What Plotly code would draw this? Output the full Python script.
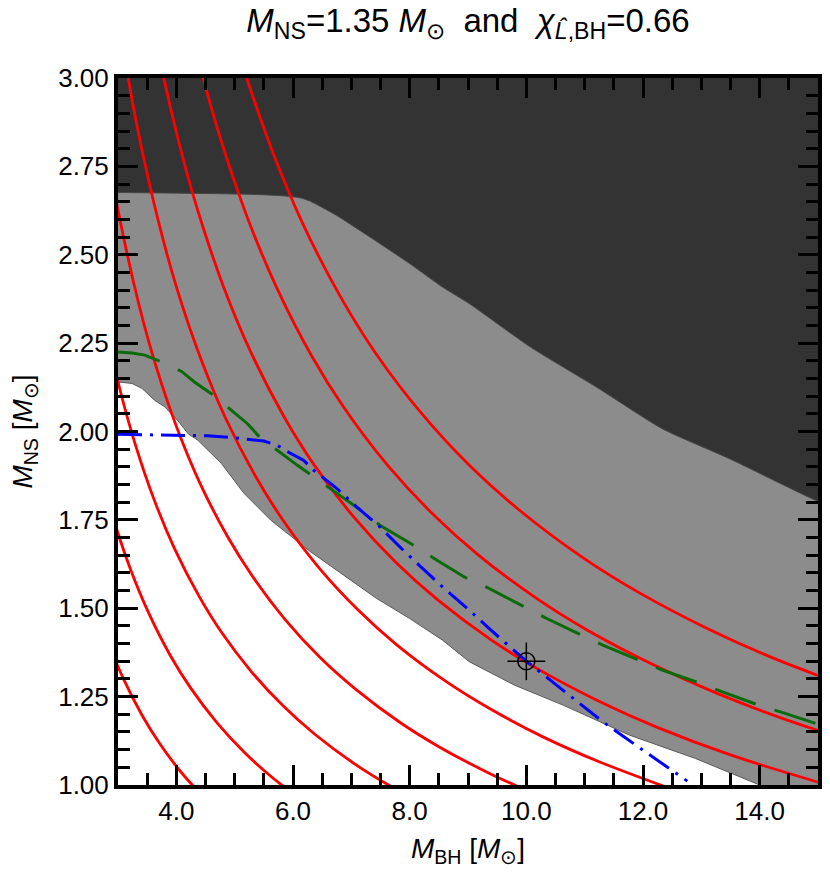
import plotly.graph_objects as go

# Red contour curves (M_BH, M_NS)
red1_x = [2.818, 3.094, 3.417, 3.720, 4.118, 4.542]
red1_y = [1.409, 1.300, 1.196, 1.116, 1.029, 0.954]
red2_x = [2.695, 2.921, 3.217, 3.533, 3.901, 4.247, 4.702, 5.186, 5.660, 6.282]
red2_y = [1.887, 1.753, 1.609, 1.484, 1.365, 1.274, 1.175, 1.089, 1.019, 0.942]
red3_x = [2.743, 3.030, 3.284, 3.617, 3.971, 4.386, 4.774, 5.285, 5.830, 6.363, 7.062, 7.668, 8.446]
red3_y = [2.331, 2.121, 1.970, 1.808, 1.668, 1.535, 1.432, 1.321, 1.224, 1.145, 1.059, 0.997, 0.929]
red4_x = [2.806, 3.046, 3.365, 3.646, 4.016, 4.410, 4.870, 5.302, 5.869, 6.473, 7.066, 7.842, 8.515, 9.379, 10.213]
red4_y = [2.806, 2.589, 2.355, 2.188, 2.008, 1.852, 1.705, 1.591, 1.467, 1.359, 1.272, 1.176, 1.107, 1.032, 0.970]
red5_x = [3.085, 3.349, 3.700, 4.009, 4.415, 4.849, 5.355, 5.829, 6.453, 7.117, 7.768, 8.622, 9.362, 10.312, 11.229, 12.415]
red5_y = [3.085, 2.846, 2.590, 2.405, 2.208, 2.036, 1.874, 1.749, 1.613, 1.495, 1.398, 1.293, 1.217, 1.134, 1.067, 0.993]
red6_x = [3.365, 3.652, 4.034, 4.372, 4.815, 5.287, 5.839, 6.356, 7.037, 7.761, 8.471, 9.402, 10.209, 11.245,
          12.245, 13.538, 15.292]
red6_y = [3.365, 3.104, 2.824, 2.623, 2.407, 2.221, 2.044, 1.907, 1.759, 1.630, 1.525, 1.410, 1.327, 1.237,
          1.163, 1.083, 0.994]
red7_x = [3.955, 4.369, 4.734, 5.214, 5.726, 6.323, 6.884, 7.620, 8.405, 9.174, 10.182, 11.056, 12.178, 13.261,
          14.661, 16.561]
red7_y = [3.361, 3.058, 2.841, 2.607, 2.405, 2.213, 2.065, 1.905, 1.765, 1.651, 1.527, 1.437, 1.340, 1.260,
          1.173, 1.076]
red8_x = [4.258, 4.704, 5.097, 5.614, 6.165, 6.808, 7.411, 8.204, 9.049, 9.877, 10.962, 11.903, 13.110, 14.277,
          15.784]
red8_y = [3.619, 3.293, 3.058, 2.807, 2.589, 2.383, 2.223, 2.051, 1.900, 1.778, 1.644, 1.547, 1.442, 1.356,
          1.263]

# Upper edge of the light grey region
upper_x = [2.9, 3.0, 4.60, 5.45, 5.96, 6.15, 6.30, 6.50, 6.75, 7.32, 8.00, 8.56, 9.02, 10.07, 11.20, 12.33,
           13.47, 15.0, 15.1]
upper_y = [2.676, 2.676, 2.673, 2.670, 2.665, 2.660, 2.651, 2.634, 2.611, 2.550, 2.475, 2.409, 2.362, 2.239,
           2.126, 2.008, 1.924, 1.803, 1.80]

# Lower edge of the light grey region (white below)
lower_x = [2.9, 3.0, 3.24, 3.41, 3.63, 3.80, 4.03, 4.20, 4.37, 4.77, 5.16, 5.62, 6.30, 6.86, 7.43, 8.00,
           8.56, 9.02, 9.79, 10.63, 11.77, 12.90, 13.86, 14.0, 15.1]
lower_y = [2.140, 2.140, 2.136, 2.122, 2.088, 2.070, 2.030, 1.994, 1.975, 1.910, 1.825, 1.749, 1.660, 1.594,
           1.528, 1.471, 1.410, 1.349, 1.283, 1.226, 1.141, 1.075, 1.009, 1.0, 0.93]

# Green dashed curve
green_x = [3.0, 3.24, 3.46, 3.75, 4.09, 4.31, 4.60, 4.94, 5.22, 5.50, 5.73, 6.07, 6.35, 6.64, 7.20, 7.49,
           8.11, 8.42, 8.93, 9.36, 10.01, 10.35, 10.97, 11.31, 11.99, 12.33, 13.01, 13.35, 14.03, 14.37, 15.0]
green_y = [2.225, 2.222, 2.216, 2.197, 2.170, 2.140, 2.107, 2.060, 2.022, 1.971, 1.947, 1.905, 1.872, 1.839,
           1.773, 1.735, 1.674, 1.641, 1.589, 1.556, 1.500, 1.471, 1.422, 1.396, 1.349, 1.325, 1.286, 1.264,
           1.223, 1.206, 1.172]

# Blue dash-dot curve
blue_x = [3.0, 4.54, 4.94, 5.50, 5.73, 5.96, 6.18, 6.35, 6.75, 7.09, 7.49, 7.86, 8.22, 8.59, 9.02, 9.36,
          10.01, 10.52, 10.92, 11.31, 11.71, 12.11, 12.53, 12.76]
blue_y = [1.992, 1.988, 1.983, 1.973, 1.961, 1.938, 1.919, 1.891, 1.839, 1.787, 1.730, 1.669, 1.613, 1.556,
          1.495, 1.443, 1.349, 1.283, 1.231, 1.179, 1.132, 1.085, 1.038, 1.011]

# Injected point
point_x = [10.0]
point_y = [1.35]

font = "Liberation Sans, Arial, sans-serif"
sp = "\u00a0"

fig = go.Figure()

fig.add_trace(go.Scatter(x=upper_x, y=upper_y, mode="lines", fill="tozeroy", fillcolor="#8c8c8c",
                         line=dict(color="#464646", width=1, shape="spline", smoothing=0.6), hoverinfo="skip"))
fig.add_trace(go.Scatter(x=lower_x, y=lower_y, mode="lines", fill="tozeroy", fillcolor="#ffffff",
                         line=dict(color="#5a5a5a", width=1), hoverinfo="skip"))

for rx, ry in [(red1_x, red1_y), (red2_x, red2_y), (red3_x, red3_y), (red4_x, red4_y),
               (red5_x, red5_y), (red6_x, red6_y), (red7_x, red7_y), (red8_x, red8_y)]:
    fig.add_trace(go.Scatter(x=rx, y=ry, mode="lines", line=dict(color="#ff0000", width=2.8, shape="spline")))

fig.add_trace(go.Scatter(x=green_x, y=green_y, mode="lines",
                         line=dict(color="#0b6b0b", width=3, dash="43px,20px")))
fig.add_trace(go.Scatter(x=blue_x, y=blue_y, mode="lines",
                         line=dict(color="#0000ff", width=3, dash="24px,8px,3px,8px")))

fig.add_trace(go.Scatter(x=point_x, y=point_y, mode="markers",
                         marker=dict(symbol="circle-open", size=17, color="black", line=dict(width=1.5))))
fig.add_trace(go.Scatter(x=point_x, y=point_y, mode="markers",
                         marker=dict(symbol="cross-thin-open", size=27, color="black", line=dict(width=1.5))))

axis_common = dict(showline=True, linecolor="black", linewidth=4, mirror="allticks",
                   ticks="inside", ticklen=20, tickwidth=3, tickcolor="black",
                   showgrid=False, zeroline=False,
                   tickfont=dict(family=font, size=26, color="black"))

fig.update_xaxes(range=[3, 15], tick0=0, dtick=2, tickformat=".1f",
                 minor=dict(dtick=0.5, ticks="inside", ticklen=12, tickwidth=3, tickcolor="black"),
                 title=dict(text="<i>M</i><sub>BH</sub>" + sp + "[<i>M</i><sub>⊙</sub>]",
                            font=dict(family=font, size=28, color="black"), standoff=14),
                 **axis_common)
fig.update_yaxes(range=[1, 3], tick0=1, dtick=0.25, tickformat=".2f",
                 minor=dict(dtick=0.05, ticks="inside", ticklen=12, tickwidth=3, tickcolor="black"),
                 title=dict(text="<i>M</i><sub>NS</sub>" + sp + "[<i>M</i><sub>⊙</sub>]",
                            font=dict(family=font, size=28, color="black"), standoff=18),
                 **axis_common)

title_text = ("<i>M</i><sub>NS</sub>=1.35" + sp + "<i>M</i><sub>⊙</sub>" + sp * 2 + "and" + sp * 2
              + "<i>χ</i><sub><i>L̂</i>,BH</sub>=0.66")

fig.update_layout(
    width=830, height=878,
    margin=dict(l=118, r=8, t=78, b=93),
    plot_bgcolor="#333333", paper_bgcolor="white",
    showlegend=False,
    title=dict(text=title_text, x=0.5, xref="paper", y=0.977, yref="container", yanchor="middle",
               font=dict(family=font, size=33, color="black")),
)

fig.write_html("out.html", config={"displayModeBar": False},
               post_script="document.body.style.margin = '0';")
